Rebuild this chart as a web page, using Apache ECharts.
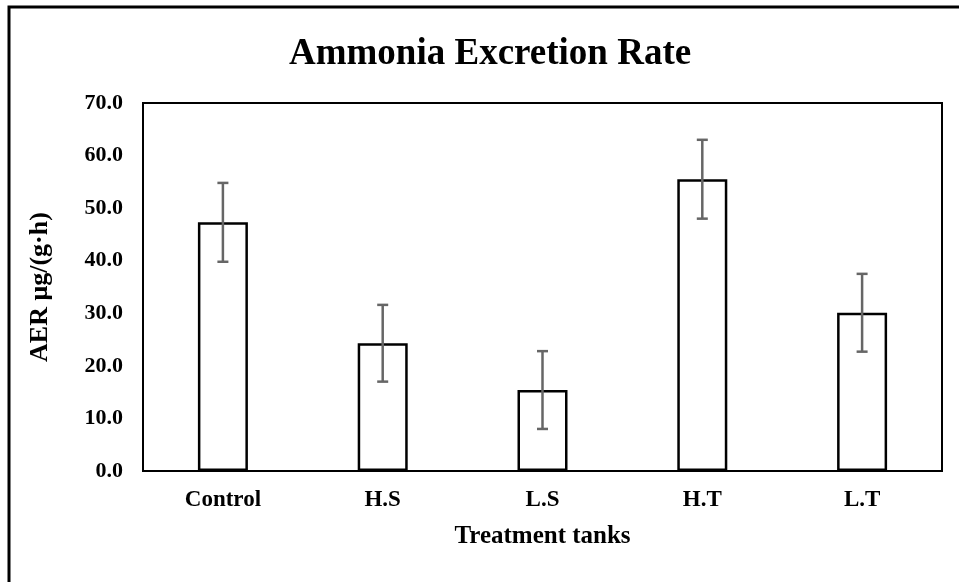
<!DOCTYPE html>
<html>
<head>
<meta charset="utf-8">
<title>Ammonia Excretion Rate</title>
<script src="https://cdn.jsdelivr.net/npm/echarts@6/dist/echarts.min.js"></script>
<style>
  html, body { margin: 0; padding: 0; background: #fff; }
  #chart { width: 959px; height: 582px; }
</style>
</head>
<body>
<div id="chart"></div>
<script>
// data
const tanks = ['Control', 'H.S', 'L.S', 'H.T', 'L.T']
const aerMeans = [47.3, 24.3, 15.4, 55.5, 30.1]
const aerErrors = [7.5, 7.3, 7.4, 7.5, 7.4]
const yTicks = [0, 10, 20, 30, 40, 50, 60, 70]

const serif = '"Liberation Serif", "Times New Roman", serif'

const myChart = echarts.init(document.getElementById('chart'))

const errorData = tanks.map((name, i) => [i, aerMeans[i] - aerErrors[i], aerMeans[i] + aerErrors[i]])

const option = {
  animation: false,
  backgroundColor: '#fff',
  title: {
    text: 'Ammonia Excretion Rate',
    left: 284,
    top: 31,
    textStyle: {
      fontFamily: serif,
      fontWeight: 'bold',
      fontSize: 37,
      color: '#000'
    }
  },
  graphic: [
    {
      // outer frame, cut off on the right and bottom like the reference
      type: 'rect',
      shape: { x: 9, y: 7, width: 1200, height: 800 },
      style: { fill: null, stroke: '#000', lineWidth: 3 },
      silent: true
    }
  ],
  grid: {
    left: 143,
    right: 17,
    top: 103,
    bottom: 111,
    show: true,
    borderColor: '#000',
    borderWidth: 2
  },
  xAxis: {
    type: 'category',
    data: tanks,
    name: 'Treatment tanks',
    nameLocation: 'middle',
    nameGap: 53,
    nameTextStyle: {
      fontFamily: serif,
      fontWeight: 'bold',
      fontSize: 25,
      color: '#000'
    },
    axisLine: { lineStyle: { color: '#000', width: 2 } },
    axisTick: { show: false },
    axisLabel: {
      margin: 18,
      fontFamily: serif,
      fontWeight: 'bold',
      fontSize: 23,
      color: '#000'
    }
  },
  yAxis: {
    type: 'value',
    min: yTicks[0],
    max: yTicks[yTicks.length - 1],
    interval: 10,
    name: 'AER μg/(g·h)',
    nameLocation: 'middle',
    nameGap: 90,
    nameTextStyle: {
      fontFamily: serif,
      fontWeight: 'bold',
      fontSize: 26,
      color: '#000'
    },
    axisLine: { show: true, lineStyle: { color: '#000', width: 2 } },
    axisTick: { show: false },
    splitLine: { show: false },
    axisLabel: {
      margin: 20,
      fontFamily: serif,
      fontWeight: 'bold',
      fontSize: 22,
      color: '#000',
      formatter: v => v.toFixed(1)
    }
  },
  series: [
    {
      type: 'bar',
      data: aerMeans,
      barWidth: 50,
      itemStyle: {
        color: '#fff',
        borderColor: '#000',
        borderWidth: 2.5
      },
      z: 2
    },
    {
      type: 'custom',
      data: errorData,
      z: 3,
      renderItem: (params, api) => {
        const x = api.value(0)
        const low = api.coord([x, api.value(1)])
        const high = api.coord([x, api.value(2)])
        const cap = 5.5
        const style = { stroke: '#666', lineWidth: 2.5, fill: null }
        return {
          type: 'group',
          children: [
            { type: 'line', shape: { x1: high[0], y1: high[1], x2: low[0], y2: low[1] }, style },
            { type: 'line', shape: { x1: high[0] - cap, y1: high[1], x2: high[0] + cap, y2: high[1] }, style },
            { type: 'line', shape: { x1: low[0] - cap, y1: low[1], x2: low[0] + cap, y2: low[1] }, style }
          ]
        }
      }
    }
  ]
}

myChart.setOption(option)
</script>
</body>
</html>
